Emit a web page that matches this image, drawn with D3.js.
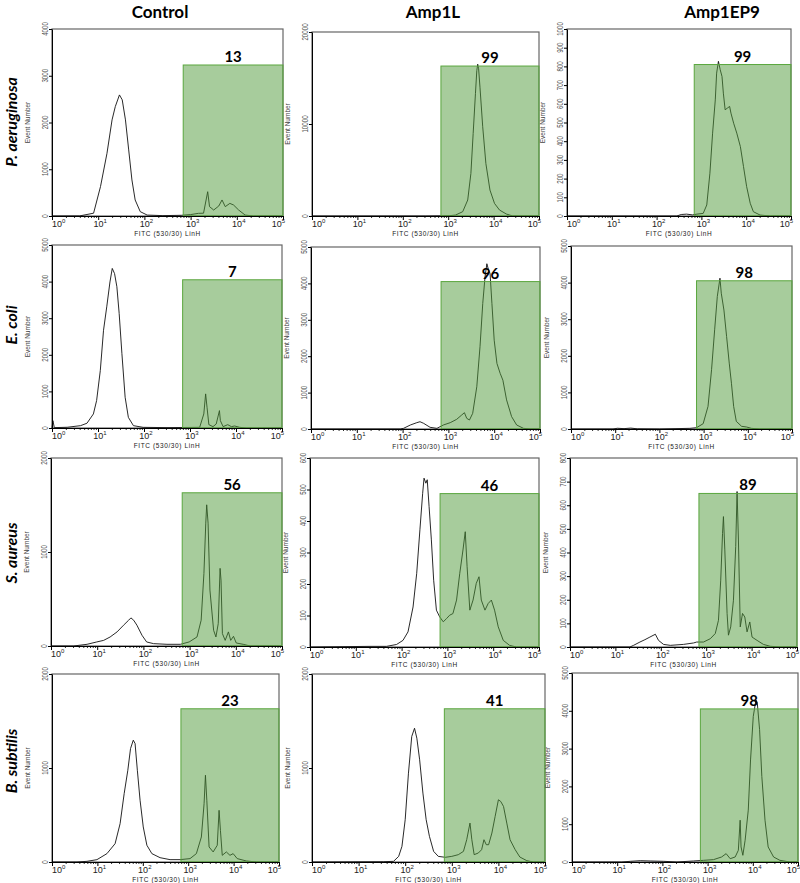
<!DOCTYPE html>
<html><head><meta charset="utf-8">
<script src="https://cdn.jsdelivr.net/npm/d3@7"></script>
<style>body{margin:0;background:#fff}</style>
</head><body><svg id="c" width="800" height="883"></svg>
<script>
// ---------- DATA ----------
const columns = ["Control", "Amp1L", "Amp1EP9"];
const rowLabels = ["P. aeruginosa", "E. coli", "S. aureus", "B. subtilis"];
const gatePercent = [13, 99, 99, 7, 96, 98, 56, 46, 89, 23, 41, 98];
const yMax = [4000, 20000, 1000, 5000, 5000, 5000, 2000, 600, 800, 2000, 2000, 5000];
const yStep = [1000, 10000, 100, 1000, 1000, 1000, 1000, 100, 100, 1000, 1000, 1000];
const gateHeight = [3230, 16300, 810, 4050, 4050, 4050, 1630, 487, 650, 1630, 1630, 4050];
const gateStartLog = 2.84;
const xTickExponents = [0, 1, 2, 3, 4, 5];
const xAxisLabel = "FITC (530/30) LinH";
const yAxisLabel = "Event Number";

// histogram points: [log10(FITC), event count]
const histPaCtrl = [[0,0],[0.6,2],[0.9,60],[1.05,630],[1.19,1340],[1.3,2056],[1.37,2340],[1.46,2590],[1.52,2485],[1.59,2056],[1.66,1414],[1.73,771],[1.8,343],[1.91,93],[2.06,20],[2.4,8],[2.8,15],[3.0,30],[3.17,57],[3.28,60],[3.37,520],[3.41,200],[3.5,128],[3.61,214],[3.68,343],[3.75,200],[3.85,270],[3.93,235],[4.04,128],[4.18,20],[4.36,0],[5,0]];
const histPaAmp1L = [[0,0],[2.5,0],[3.02,30],[3.16,100],[3.32,470],[3.43,1740],[3.5,4630],[3.55,8970],[3.6,13300],[3.63,15800],[3.65,16500],[3.67,16000],[3.7,14000],[3.76,9700],[3.83,5700],[3.92,2820],[4.02,1370],[4.13,650],[4.28,217],[4.42,0],[5,0]];
const histPaAmp1EP9 = [[0,0],[2.45,0],[2.55,8],[2.67,10],[2.8,6],[2.9,10],[3.04,14],[3.12,59],[3.19,229],[3.25,443],[3.31,621],[3.34,764],[3.38,827],[3.42,782],[3.46,746],[3.49,657],[3.53,568],[3.58,577],[3.63,586],[3.66,550],[3.72,496],[3.79,443],[3.87,371],[3.94,264],[4.01,157],[4.09,68],[4.16,23],[4.31,5],[4.54,0],[5,0]];
const histEcCtrl = [[0,0],[0.02,200],[0.05,10],[0.33,20],[0.62,64],[0.76,130],[0.9,384],[0.97,750],[1.05,1570],[1.12,2670],[1.19,3310],[1.26,3990],[1.31,4360],[1.36,4220],[1.41,3860],[1.46,3130],[1.52,2030],[1.59,840],[1.66,290],[1.77,64],[1.98,18],[2.5,10],[3.0,15],[3.21,18],[3.3,384],[3.34,932],[3.37,567],[3.41,91],[3.5,37],[3.57,110],[3.64,475],[3.66,200],[3.72,37],[3.82,91],[3.9,37],[3.97,55],[4.08,18],[4.22,0],[5,0]];
const histEcAmp1L = [[0,0],[1.95,0],[2.02,18],[2.17,110],[2.31,174],[2.38,200],[2.46,155],[2.6,46],[2.75,18],[2.89,110],[3.04,174],[3.18,265],[3.29,384],[3.35,448],[3.4,293],[3.46,247],[3.53,430],[3.62,1160],[3.69,2260],[3.75,3450],[3.8,4180],[3.84,4540],[3.87,4400],[3.91,4270],[3.95,3450],[4.0,2440],[4.06,1800],[4.13,1530],[4.19,1340],[4.27,800],[4.38,340],[4.49,110],[4.64,18],[4.8,0],[5,0]];
const histEcAmp1EP9 = [[0,0],[0.95,0],[1.05,20],[1.2,10],[1.35,25],[1.5,5],[2.0,0],[2.69,18],[2.84,36],[2.99,145],[3.1,618],[3.18,1620],[3.25,2710],[3.31,3620],[3.37,4120],[3.4,3710],[3.46,3250],[3.52,2530],[3.58,1800],[3.63,1250],[3.68,618],[3.74,209],[3.86,73],[3.97,55],[4.08,18],[4.27,0],[5,0]];
const histSaCtrl = [[0,0],[0.49,0],[0.78,18],[0.99,43],[1.14,60],[1.28,96],[1.43,150],[1.57,221],[1.68,274],[1.73,299],[1.79,274],[1.86,221],[1.97,114],[2.07,43],[2.22,25],[2.51,18],[2.8,18],[2.99,43],[3.16,96],[3.25,274],[3.31,773],[3.35,1307],[3.37,1502],[3.4,1307],[3.44,595],[3.52,167],[3.57,96],[3.62,238],[3.66,826],[3.68,701],[3.71,132],[3.77,60],[3.84,150],[3.89,60],[3.95,103],[4.01,32],[4.16,18],[4.31,0],[5,0]];
const histSaAmp1L = [[0,0],[1.31,2],[1.67,2],[1.89,8],[2.03,21],[2.14,48],[2.25,127],[2.33,234],[2.4,372],[2.46,488],[2.49,536],[2.53,520],[2.56,531],[2.6,446],[2.65,340],[2.7,212],[2.76,117],[2.83,96],[2.91,80],[2.98,90],[3.05,101],[3.12,106],[3.2,149],[3.27,234],[3.34,308],[3.39,366],[3.43,255],[3.49,117],[3.56,149],[3.63,202],[3.69,223],[3.74,149],[3.82,117],[3.89,138],[3.96,149],[4.03,117],[4.11,64],[4.22,21],[4.36,5],[4.51,0],[5,0]];
const histSaAmp1EP9 = [[0,0],[1.32,0],[1.4,7],[1.54,21],[1.65,31],[1.76,42],[1.88,54],[1.95,28],[2.06,11],[2.21,7],[2.5,11],[2.72,17],[2.79,21],[2.94,21],[3.09,35],[3.2,57],[3.27,113],[3.32,283],[3.36,481],[3.38,552],[3.41,411],[3.46,142],[3.49,50],[3.54,85],[3.6,198],[3.65,425],[3.68,658],[3.71,453],[3.75,85],[3.8,142],[3.85,127],[3.9,64],[3.96,106],[4.01,42],[4.12,28],[4.26,11],[4.41,3],[4.63,0],[5,0]];
const histBsCtrl = [[0,0],[0.55,0],[0.77,7],[0.99,25],[1.21,89],[1.39,195],[1.5,408],[1.59,728],[1.67,976],[1.73,1207],[1.79,1296],[1.83,1260],[1.88,976],[1.94,657],[2.01,373],[2.09,178],[2.2,89],[2.38,46],[2.6,25],[2.82,25],[3.04,36],[3.18,89],[3.29,266],[3.35,621],[3.38,923],[3.41,657],[3.46,160],[3.55,107],[3.64,178],[3.68,550],[3.71,337],[3.75,71],[3.84,107],[3.92,71],[3.99,89],[4.08,36],[4.28,11],[4.5,0],[5,0]];
const histBsAmp1L = [[0,0],[1.54,3],[1.75,7],[1.86,60],[1.93,166],[2.0,450],[2.07,945],[2.14,1335],[2.2,1423],[2.25,1317],[2.31,1087],[2.38,733],[2.45,450],[2.52,273],[2.61,113],[2.71,60],[2.86,50],[3.0,60],[3.14,78],[3.25,113],[3.32,237],[3.39,414],[3.43,237],[3.48,78],[3.57,96],[3.64,131],[3.69,237],[3.74,184],[3.79,184],[3.86,308],[3.93,485],[4.0,662],[4.05,644],[4.11,591],[4.18,414],[4.25,237],[4.36,131],[4.46,53],[4.61,14],[4.75,0],[5,0]];
const histBsAmp1EP9 = [[0,0],[1.1,0],[1.29,18],[1.51,35],[1.73,27],[2.03,18],[2.32,0],[2.69,27],[2.91,44],[3.13,62],[3.31,133],[3.41,221],[3.5,88],[3.61,133],[3.68,310],[3.72,1106],[3.74,398],[3.78,177],[3.83,575],[3.9,1372],[3.95,2700],[4.01,3850],[4.07,4290],[4.1,4200],[4.15,3500],[4.2,2260],[4.27,1106],[4.34,398],[4.46,133],[4.6,44],[4.82,0],[5,0]];
const histograms = [histPaCtrl, histPaAmp1L, histPaAmp1EP9, histEcCtrl, histEcAmp1L, histEcAmp1EP9,
                    histSaCtrl, histSaAmp1L, histSaAmp1EP9, histBsCtrl, histBsAmp1L, histBsAmp1EP9];

// ---------- LAYOUT ----------
const boxes = [[52,29,283,216],[312,32,539,216],[567,29,791,216],
               [52,245,282,428],[311,247,540,429],[571,246,792,429],
               [51,458,282,646],[310,458,539,647],[570,458,797,647],
               [52,674,279,862],[312,674,545,862],[572,673,798,862]];
const colTitleX = [160, 433, 722];
const rowTitleY = [122, 325, 553, 761];

const svg = d3.select("#c");
const tickFont = "'Liberation Sans', Arial, sans-serif";
const titleFont = "Lato, 'Open Sans', sans-serif";

columns.forEach((t, i) => {
  svg.append("text").attr("x", colTitleX[i]).attr("y", 18).attr("text-anchor", "middle")
    .attr("font-family", titleFont).attr("font-weight", "bold").attr("font-size", 17).text(t);
});
rowLabels.forEach((t, i) => {
  svg.append("text").attr("transform", `translate(17,${rowTitleY[i]}) rotate(-90)`)
    .attr("text-anchor", "middle").attr("font-family", titleFont).attr("font-weight", "bold")
    .attr("font-style", "italic").attr("font-size", 16).text(t);
});

histograms.forEach((hist, i) => {
  const [L, T, R, B] = boxes[i];
  const g = svg.append("g");
  const x = d3.scaleLog().domain([1, 1e5]).range([L, R]);
  const y = d3.scaleLinear().domain([0, yMax[i]]).range([B, T]);

  g.append("rect").attr("x", L).attr("y", T).attr("width", R - L).attr("height", B - T)
    .attr("fill", "#fff").attr("stroke", "#666").attr("stroke-width", 1.2);

  const line = d3.line().x(d => x(Math.pow(10, d[0]))).y(d => y(d[1]));
  g.append("path").datum(hist).attr("d", line).attr("fill", "none")
    .attr("stroke", "#111").attr("stroke-width", 0.9);

  const gx = x(Math.pow(10, gateStartLog));
  g.append("rect").attr("x", gx).attr("y", y(gateHeight[i])).attr("width", R - gx)
    .attr("height", y(0) - y(gateHeight[i]))
    .attr("fill", "#4f9a3a").attr("fill-opacity", 0.5).attr("stroke", "#5aa63e").attr("stroke-width", 1);

  // x axis
  const minor = [];
  for (let e = 0; e < 5; e++) for (let k = 2; k <= 9; k++) minor.push(k * Math.pow(10, e));
  g.append("g").attr("transform", `translate(0,${B})`)
    .call(d3.axisBottom(x).tickValues(minor).tickSize(2).tickFormat(""))
    .call(a => a.select(".domain").remove())
    .selectAll("line").attr("stroke", "#333");
  g.append("g").attr("transform", `translate(0,${B})`)
    .call(d3.axisBottom(x).tickValues(xTickExponents.map(e => Math.pow(10, e))).tickSizeInner(4).tickSizeOuter(0).tickFormat(""))
    .call(a => a.select(".domain").attr("stroke", "#000"));
  xTickExponents.forEach((e, k) => {
    const px = x(Math.pow(10, e));
    const anchor = k === 0 ? "start" : (k === xTickExponents.length - 1 ? "end" : "middle");
    const ox = k === 0 ? 0 : 2;
    const t = g.append("text").attr("x", px + ox).attr("y", B + 11).attr("text-anchor", anchor)
      .attr("font-family", tickFont).attr("font-size", 9).attr("fill", "#222");
    t.append("tspan").text("10");
    t.append("tspan").attr("dy", -4).attr("font-size", 6).text(e);
  });
  g.append("text").attr("x", (L + R) / 2).attr("y", B + 20).attr("text-anchor", "middle")
    .attr("font-family", tickFont).attr("font-size", 6.5).attr("letter-spacing", 0.6)
    .attr("fill", "#222").text(xAxisLabel);

  // y axis
  const yt = d3.range(0, yMax[i] + 1, yStep[i]);
  g.append("g").attr("transform", `translate(${L},0)`)
    .call(d3.axisLeft(y).tickValues(yt).tickSizeInner(3).tickSizeOuter(0).tickFormat(""))
    .call(a => a.select(".domain").attr("stroke", "#000"));
  yt.forEach(v => {
    g.append("text").attr("transform", `translate(${L - 4},${y(v)}) rotate(-90) scale(0.65,1)`)
      .attr("text-anchor", "middle").attr("font-family", tickFont).attr("font-size", 9.5)
      .attr("fill", "#555").text(v);
  });
  g.append("text").attr("transform", `translate(${L - 22},${(T + B) / 2}) rotate(-90)`)
    .attr("text-anchor", "middle").attr("font-family", tickFont).attr("font-size", 6.5)
    .attr("fill", "#444").text(yAxisLabel);

  // gate percentage
  g.append("text").attr("x", (gx + R) / 2).attr("y", y(gateHeight[i]) - 3).attr("text-anchor", "middle")
    .attr("font-family", titleFont).attr("font-weight", "bold").attr("font-size", 15).text(gatePercent[i]);
});
</script></body></html>
